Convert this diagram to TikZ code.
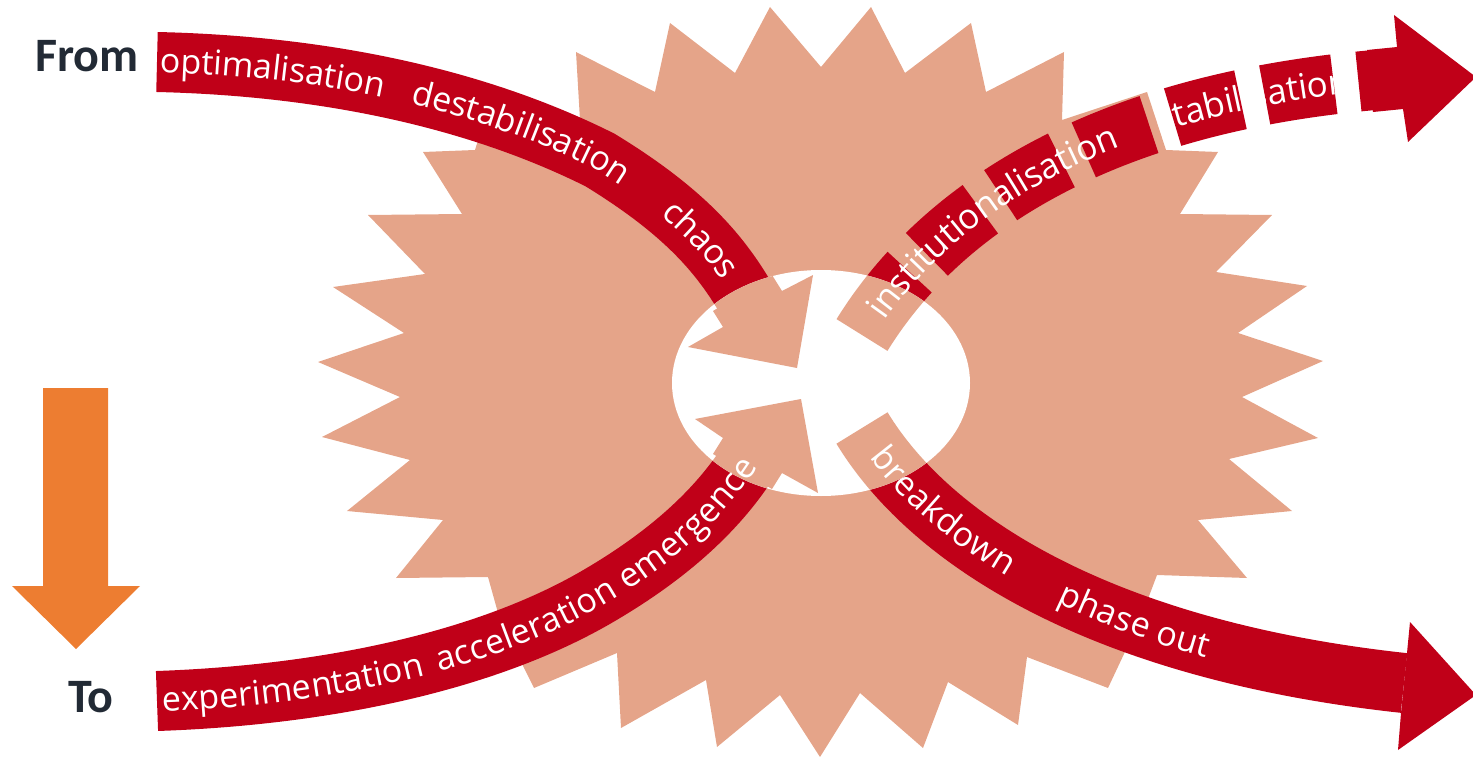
\documentclass[tikz,border=0pt]{standalone}
\usepackage{fontspec}
\newfontfamily\bandfam{Open Sans}
\newfontfamily\labfam{Carlito}
\usetikzlibrary{decorations.text}
\definecolor{peach}{HTML}{E5A489}
\definecolor{bandred}{HTML}{C00018}
\definecolor{arrorange}{HTML}{ED7D31}
\definecolor{labdark}{HTML}{222A35}
\newcommand{\bandfont}{\bandfam\fontsize{34}{34}\selectfont}
\newcommand{\bandfontC}{\bandfam\fontsize{35}{35}\selectfont}
\tikzset{
  pathA/.style={insert path={(157,62) .. controls (330,66) and (480,100) .. (600,160) .. controls (690,215) and (725,260) .. (752,309)}},
  pathB/.style={insert path={(157,701) .. controls (330,695) and (490,660) .. (600,595) .. controls (680,548) and (725,500) .. (752,456)}},
  pathC/.style={insert path={(862,335) .. controls (930,225) and (1080,100) .. (1400,78)}},
  pathD/.style={insert path={(862,428) .. controls (930,540) and (1100,650) .. (1404,683)}},
  bandline/.style={line width=60pt},
  bandword/.style 2 args={decorate, decoration={text along path, text={|\bandfont|#2}, text color=white, raise=-10.5pt, text align={left indent=#1}}},
  bandwordC/.style 2 args={decorate, decoration={text along path, text={|\bandfontC|#2}, text color=white, raise=-11pt, text align={left indent=#1}}},
  lab/.style={font=\labfam\bfseries\fontsize{48}{48}\selectfont, text=labdark, inner sep=0pt}
}
\begin{document}
\begin{tikzpicture}[x=1pt,y=-1pt]
\useasboundingbox (0,0) rectangle (1473,757);
% starburst
\fill[peach] (423,152) -- (475,150) -- (493,92) -- (580,120) -- (576,52) -- (655,92) -- (670,23) -- (735,73) -- (770,7) -- (821,67) -- (871,7) -- (905,73) -- (971,23) -- (986,92) -- (1064,52) -- (1062,120) -- (1147,92) -- (1166,150) -- (1218,152) -- (1180,214) -- (1272,215) -- (1216,272) -- (1307,286) -- (1238,333) -- (1323,361) -- (1242,397) -- (1318,438) -- (1229,459) -- (1292,511) -- (1198,520) -- (1247,578) -- (1157,575) -- (1140,620) -- (1108,688) -- (1027,657) -- (1018,725) -- (948,682) -- (923,748) -- (860,693) -- (820,757) -- (780,695) -- (717,747) -- (706,680) -- (621,728) -- (617,653) -- (534,688) -- (500,620) -- (488,577) -- (396,578) -- (443,520) -- (347,511) -- (410,460) -- (322,437) -- (400,397) -- (318,362) -- (404,333) -- (333,287) -- (425,274) -- (368,215) -- (462,214) -- cycle;
% red bands
\draw[bandred, bandline, pathA];
\draw[bandred, bandline, pathB];
\draw[bandred, bandline, dash pattern=on 70pt off 24.75pt, dash phase=85.75pt, pathC];
\draw[bandred, bandline, pathD];
% centre ellipse
\fill[white] (821,383) ellipse [x radius=149pt, y radius=113pt];
\begin{scope}
  \clip (821,383) ellipse [x radius=149pt, y radius=113pt];
  \draw[peach, bandline, pathA];
  \draw[peach, bandline, pathB];
  \draw[peach, bandline, pathC];
  \draw[peach, bandline, pathD];
  \fill[peach] (713,311) -- (723,327) -- (688,347) -- (797,368) -- (813,275) -- (782,291) -- (772,275) -- cycle;
  \fill[peach] (713,454) -- (723,438) -- (695,419) -- (801,399) -- (818,493) -- (782,473) -- (772,489) -- cycle;
\end{scope}
% outer arrow heads
\fill[bandred] (1367,50) -- (1397,47) -- (1394,15) -- (1476,77) -- (1408,142) -- (1403,109) -- (1373,112) -- cycle;
\fill[bandred] (1407,653) -- (1410,622) -- (1476,695) -- (1398,750) -- (1401,713) -- cycle;
% band texts
\path[bandword={3pt}{optimalisation}, pathA];
\path[bandword={258pt}{destabilisation}, pathA];
\path[bandword={540pt}{chaos}, pathA, insert path={-- (776,353)}];
\path[bandword={5pt}{experimentation}, pathB];
\path[bandword={283pt}{acceleration}, pathB];
\path[bandword={485pt}{emergence}, pathB, insert path={-- (778,413)}];
\path[bandwordC={25pt}{institutionalisation}, pathC];
\path[bandwordC={372pt}{stabilisation}, pathC];
\path[bandword={28pt}{breakdown}, pathD];
\path[bandword={262pt}{phase out}, pathD];
% orange arrow
\fill[arrorange] (43,388) -- (108,388) -- (108,586) -- (140,586) -- (76,649) -- (12,586) -- (43,586) -- cycle;
% labels
\node[lab] (from) at (87,56) {From};
\node[lab] (to) at (91,697) {To};
\end{tikzpicture}
\end{document}
